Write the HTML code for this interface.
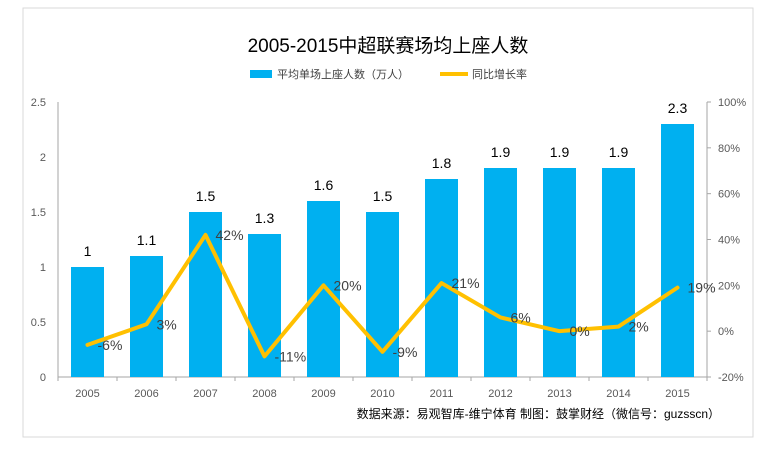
<!DOCTYPE html>
<html><head><meta charset="utf-8"><style>
body{margin:0;background:#fff;width:774px;height:452px;overflow:hidden}
svg{font-family:"Liberation Sans","Noto Sans CJK SC",sans-serif}
</style></head><body>
<svg id="c" width="774" height="452">
<rect x="23" y="8" width="730" height="429" fill="#fff" stroke="#d9d9d9"/>
<text x="388" y="52" text-anchor="middle" font-size="19" fill="#000">2005-2015中超联赛场均上座人数</text>
<g>
<rect x="250" y="70" width="22" height="8" fill="#00b0f0"/>
<text x="277" y="78" font-size="11" fill="#404040">平均单场上座人数（万人）</text>
<line x1="440" y1="74" x2="468" y2="74" stroke="#ffc000" stroke-width="4"/>
<text x="472" y="78" font-size="11" fill="#404040">同比增长率</text>
</g>
<text x="720" y="418" text-anchor="end" font-size="12" fill="#000">数据来源：易观智库-维宁体育  制图：鼓掌财经（微信号：guzsscn）</text>
<g id="g"></g>
</svg>
<script>
const categories=["2005","2006","2007","2008","2009","2010","2011","2012","2013","2014","2015"];
const attendance=[1,1.1,1.5,1.3,1.6,1.5,1.8,1.9,1.9,1.9,2.3];
const growth=[-6,3,42,-11,20,-9,21,6,0,2,19];
const leftTicks=[0,0.5,1,1.5,2,2.5];
const rightTicks=[-20,0,20,40,60,80,100];
const X0=58,X1=707,Y0=377,Y1=102;
const bw=(X1-X0)/categories.length;
const xc=i=>X0+bw*(i+0.5);
const yL=v=>Y0-(v/2.5)*(Y0-Y1);
const yR=v=>Y0-((v+20)/120)*(Y0-Y1);
const g=document.getElementById('g');
const NS="http://www.w3.org/2000/svg";
function mk(t,a){const e=document.createElementNS(NS,t);for(const k in a)e.setAttribute(k,a[k]);g.appendChild(e);return e;}
let e;
e=mk('line',{x1:X0,y1:Y1,x2:X0,y2:Y0,stroke:'#a6a6a6'});


e=mk('line',{x1:X1,y1:Y1,x2:X1,y2:Y0,stroke:'#a6a6a6'});


e=mk('line',{x1:X0,y1:Y0,x2:X1,y2:Y0,stroke:'#a6a6a6'});


leftTicks.forEach(v=>{
 e=mk('text',{x:X0-12,y:yL(v)+4,'text-anchor':'end','font-size':11,fill:'#595959'});e.textContent=v;
 
 
});
rightTicks.forEach(v=>{
 mk('line',{x1:X1,y1:yR(v),x2:X1+4,y2:yR(v),stroke:'#a6a6a6'});
 e=mk('text',{x:X1+11,y:yR(v)+4,'font-size':11,fill:'#595959'});e.textContent=v+'%';
 
 
});
for(let i=0;i<=categories.length;i++)mk('line',{x1:X0+bw*i,y1:Y0,x2:X0+bw*i,y2:Y0+4,stroke:'#a6a6a6'});
categories.forEach((c,i)=>{
 e=mk('rect',{x:xc(i)-16.5,y:yL(attendance[i]),width:33,height:Y0-yL(attendance[i]),fill:'#00b0f0'});
 
 
 e=mk('text',{x:xc(i),y:yL(attendance[i])-11,'text-anchor':'middle','font-size':14,fill:'#000'});e.textContent=attendance[i];
 
 
 e=mk('text',{x:xc(i),y:Y0+20,'text-anchor':'middle','font-size':11,fill:'#595959'});e.textContent=c;
 
 
});
e=mk('polyline',{points:growth.map((v,i)=>xc(i)+','+yR(v)).join(' '),fill:'none',stroke:'#ffc000','stroke-width':4,'stroke-linejoin':'round','stroke-linecap':'round'});


growth.forEach((v,i)=>{
 e=mk('text',{x:xc(i)+10,y:yR(v)+5,'font-size':14,fill:'#404040'});e.textContent=v+'%';
 
 
});
</script>
</body></html>
